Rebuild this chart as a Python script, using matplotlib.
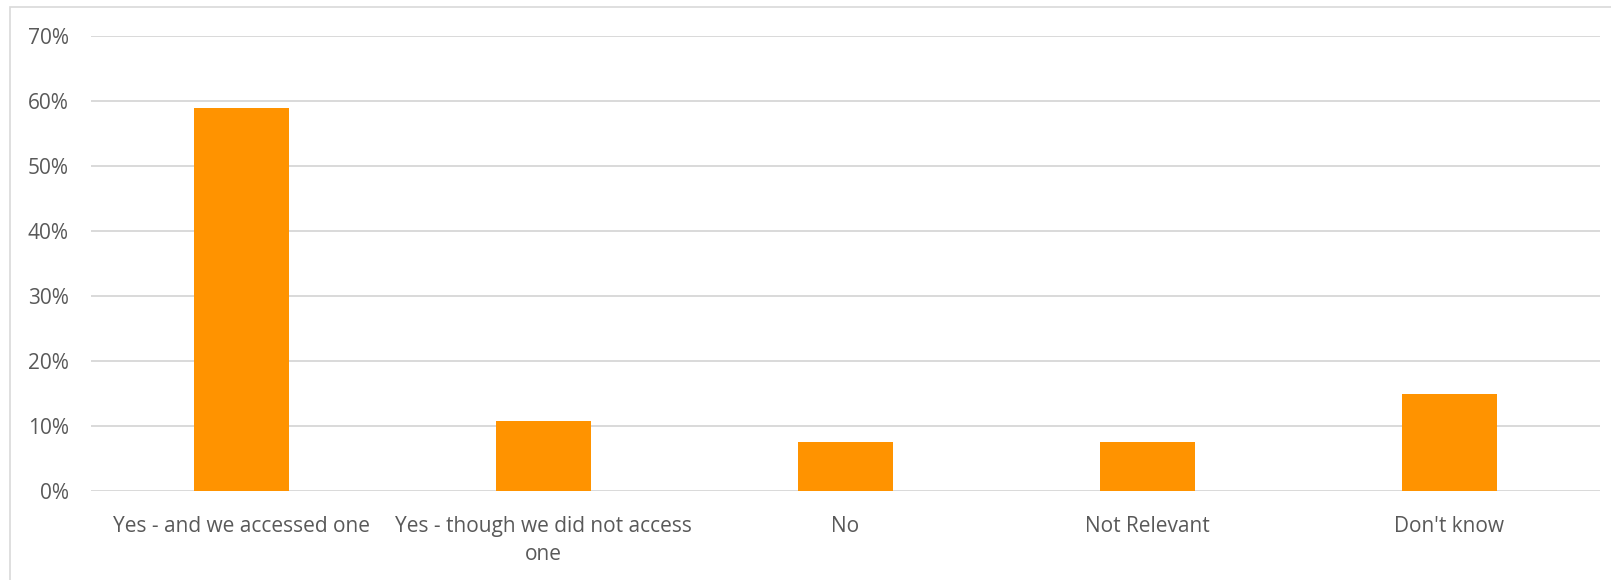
import matplotlib
matplotlib.use("Agg")
import matplotlib.pyplot as plt
from matplotlib.ticker import FuncFormatter
from matplotlib.patches import Rectangle

# chart data
categories = ["Yes - and we accessed one", "Yes - though we did not access\none",
              "No", "Not Relevant", "Don't know"]
values = [59.0, 10.8, 7.5, 7.5, 15.0]
yticks = [0, 10, 20, 30, 40, 50, 60, 70]

plt.rcParams['font.family'] = ['Open Sans', 'DejaVu Sans']

fig = plt.figure(figsize=(16.11, 5.8), dpi=100)
# plot area in pixels: x 91..1600, y 36..491
ax = fig.add_axes([91 / 1611, 1 - 491 / 580, 1509 / 1611, 455 / 580])

# outer chart border
fig.patches.append(Rectangle((10 / 1611, -0.01), 1.02, 1 - 7 / 580 + 0.01,
                             transform=fig.transFigure, fill=False,
                             edgecolor='#d9d9d9', linewidth=1.2))

x = range(len(categories))
ax.bar(x, values, width=0.315, color='#ff9300', zorder=3)

ax.set_xlim(-0.5, len(categories) - 0.5)
ax.set_ylim(0, 70)
ax.set_yticks(yticks)
ax.yaxis.set_major_formatter(FuncFormatter(lambda v, p: f"{int(v)}%"))
ax.grid(axis='y', color='#d9d9d9', linewidth=1.4, zorder=0)
ax.set_axisbelow(True)

for s in ax.spines.values():
    s.set_visible(False)
ax.tick_params(axis='both', length=0, colors='#595959', labelsize=15)
ax.tick_params(axis='y', pad=16)
ax.tick_params(axis='x', pad=18)
ax.set_xticks(list(x))
ax.set_xticklabels(categories, linespacing=1.45)

fig.savefig("out.png", dpi=100)
